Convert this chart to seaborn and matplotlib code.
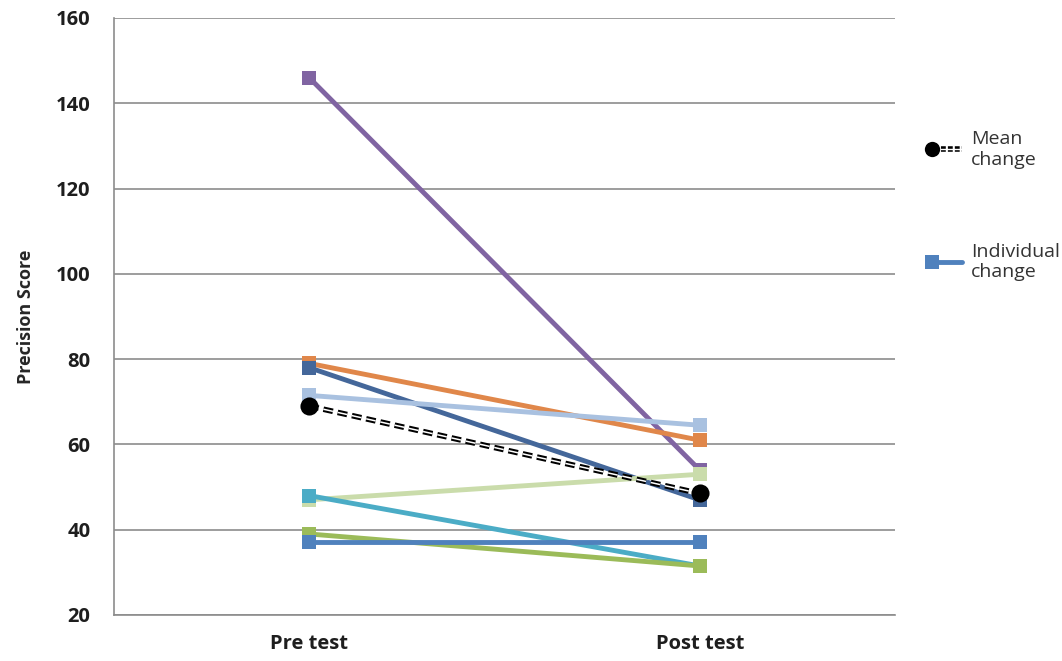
import pandas as pd
import matplotlib.pyplot as plt
import seaborn as sns
from matplotlib.lines import Line2D
from matplotlib.legend_handler import HandlerBase

# Data
phases = ["Pre test", "Post test"]
subjects = ["P1", "P2", "P3", "P4", "P5", "P6", "P7", "P8"]
pre_scores = [146, 79, 78, 71.5, 47, 48, 39, 37]
post_scores = [54, 61, 47, 64.5, 53, 31.5, 31.5, 37]
mean_scores = [69, 48.5]
colors = ["#8064A2", "#E0874A", "#44679A", "#A9C1E0",
          "#CADCAB", "#4BACC6", "#9BBB59", "#4F81BD"]

rows = []
for s, a, b in zip(subjects, pre_scores, post_scores):
    rows.append({"subject": s, "phase": phases[0], "score": a})
    rows.append({"subject": s, "phase": phases[1], "score": b})
df = pd.DataFrame(rows)
mean_df = pd.DataFrame({"phase": phases, "score": mean_scores})

sns.set_style("white")
plt.rcParams["font.family"] = ["Open Sans", "DejaVu Sans"]
plt.rcParams["lines.scale_dashes"] = False

DASH = [7, 3.5]

fig = plt.figure(figsize=(10.62, 6.61), dpi=100)
ax = fig.add_axes([0.1073, 0.0696, 0.7354, 0.9032])

sns.lineplot(data=df, x="phase", y="score", hue="subject", palette=colors,
             marker="s", markersize=10, markeredgewidth=0, linewidth=3.5,
             legend=False, ax=ax, sort=False)

# Mean change: double dashed black line
sns.lineplot(data=mean_df, x="phase", y="score", color="black", linewidth=4,
             ax=ax, sort=False, zorder=5)
ax.lines[-1].set_dashes(DASH)
sns.lineplot(data=mean_df, x="phase", y="score", color="white", linewidth=1.1,
             ax=ax, sort=False, zorder=6)
ax.lines[-1].set_dashes(DASH)
sns.scatterplot(data=mean_df, x="phase", y="score", color="black", s=170,
                ax=ax, zorder=7, linewidth=0)

ax.set_xlim(-0.5, 1.5)
ax.set_ylim(20, 160)
ax.set_yticks(range(20, 161, 20))
ax.yaxis.grid(True, color="#8C8C8C", linewidth=1.2)
ax.set_axisbelow(True)
for side in ["top", "right"]:
    ax.spines[side].set_visible(False)
ax.spines["left"].set_color("#8C8C8C")
ax.spines["bottom"].set_color("#8C8C8C")
ax.spines["left"].set_linewidth(1.2)
ax.spines["bottom"].set_linewidth(1.2)

# category boundary ticks like Excel
ax.set_xticks([-0.5, 0.5, 1.5], minor=True)
ax.tick_params(axis="x", which="minor", length=6, color="#8C8C8C", width=1.2)
ax.tick_params(axis="x", which="major", length=0, pad=14)
ax.tick_params(axis="y", length=6, color="#8C8C8C", width=1.2, pad=11)
for lab in ax.get_xticklabels() + ax.get_yticklabels():
    lab.set_fontweight("bold")
    lab.set_fontsize(14.5)
    lab.set_color("#1E1E1E")

ax.set_xlabel("")
ax.set_ylabel("Precision Score", fontsize=13, fontweight="bold", labelpad=15)


class LeftMarkerHandler(HandlerBase):
    def __init__(self, color, marker, msize, lw, double=False):
        super().__init__()
        self.color, self.marker, self.msize = color, marker, msize
        self.lw, self.double = lw, double

    def create_artists(self, legend, orig_handle, xdescent, ydescent,
                       width, height, fontsize, trans):
        y = height / 2 - ydescent
        x0 = -xdescent
        arts = []
        line = Line2D([x0 + width * 0.2, x0 + width], [y, y], color=self.color,
                      lw=self.lw, transform=trans)
        arts.append(line)
        if self.double:
            line.set_dashes([3.5, 1.5])
            inner = Line2D([x0 + width * 0.2, x0 + width], [y, y],
                           color="white", lw=1.0, transform=trans)
            arts.append(inner)
        arts.append(Line2D([x0 + width * 0.15], [y], color=self.color, lw=0,
                           marker=self.marker, markersize=self.msize,
                           markeredgewidth=0, transform=trans))
        return arts


mean_handle = Line2D([0], [0], color="black")
ind_handle = Line2D([0], [0], color="#4F81BD")
fig.legend([mean_handle, ind_handle], ["Mean\nchange", "Individual\nchange"],
           handler_map={mean_handle: LeftMarkerHandler("black", "o", 11, 4, True),
                        ind_handle: LeftMarkerHandler("#4F81BD", "s", 10, 3.5)},
           loc="upper left", bbox_to_anchor=(0.856, 0.83), frameon=False,
           fontsize=14, labelspacing=3.8, handlelength=1.8, handletextpad=0.5,
           labelcolor="#333333")

plt.savefig("out.png", dpi=100)
